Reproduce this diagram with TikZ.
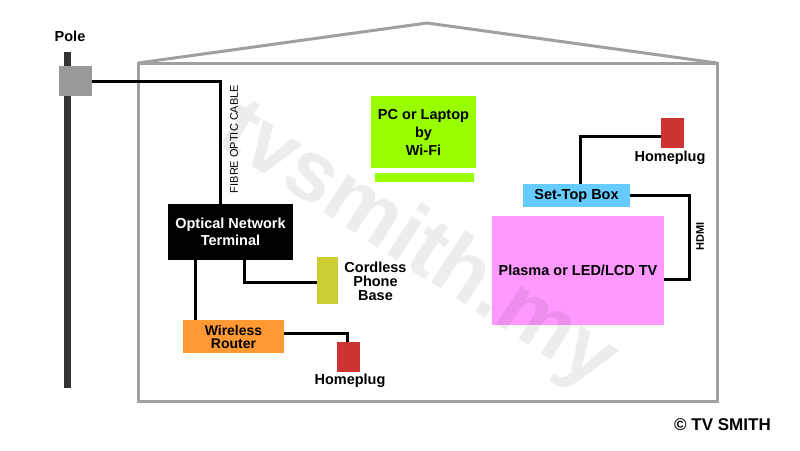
\documentclass[tikz,border=0pt]{standalone}
\usepackage{fontspec}
\setmainfont{Liberation Sans}
\usetikzlibrary{calc}
\definecolor{housegray}{HTML}{A0A0A0}
\definecolor{polegray}{HTML}{333333}
\definecolor{boxgray}{HTML}{999999}
\definecolor{olive}{HTML}{CCCC33}
\definecolor{routerorange}{HTML}{FF9933}
\definecolor{plugred}{HTML}{CC3333}
\definecolor{pcgreen}{HTML}{99FF00}
\definecolor{stbblue}{HTML}{66CCFF}
\definecolor{tvpink}{HTML}{FF99FF}
\begin{document}
\begin{tikzpicture}[x=1pt,y=-1pt,
  box/.style={rectangle,inner sep=0pt,draw=none,align=center},
  lbl/.style={inner sep=0pt,align=center,font=\bfseries\fontsize{14.5}{14}\selectfont},
  wire/.style={draw=black,line width=3pt},
  house/.style={draw=housegray,line width=3pt,line join=miter}]
\useasboundingbox (0,0) rectangle (800,450);
% house
\draw[house] (138,63) rectangle (717,401);
\draw[house] (138,63) -- (427,23) -- (717,63);
% pole
\fill[polegray] (64,52) rectangle (71,388);
\node[box,fill=boxgray,minimum width=33pt,minimum height=30pt] (pbox) at (75.5,81) {};
\node[lbl] (polelbl) at (70,36) {Pole};
% devices
\node[box,fill=black,text=white,minimum width=125pt,minimum height=56pt,font=\bfseries\fontsize{14.5}{17}\selectfont] (ont) at (230.5,232) {Optical Network\\Terminal};
\node[box,fill=olive,minimum width=21pt,minimum height=47pt] (cord) at (327.5,280.5) {};
\node[lbl] (cordlbl) at (375.5,281) {Cordless\\Phone\\Base};
\node[box,fill=routerorange,minimum width=101pt,minimum height=33pt,font=\bfseries\fontsize{14}{13}\selectfont] (router) at (233.5,336.5) {Wireless\\Router};
\node[box,fill=plugred,minimum width=23pt,minimum height=30pt] (hp1) at (348.5,357) {};
\node[lbl] (hp1lbl) at (350,381) {Homeplug};
\node[box,fill=pcgreen,minimum width=105pt,minimum height=72pt,font=\bfseries\fontsize{14.5}{18}\selectfont] (pc) at (423.5,132) {PC or Laptop\\by\\Wi-Fi};
\node[box,fill=pcgreen,minimum width=99pt,minimum height=9pt] (kbd) at (424.5,177.5) {};
\node[box,fill=plugred,minimum width=23pt,minimum height=30pt] (hp2) at (672.5,133) {};
\node[lbl] (hp2lbl) at (670,158) {Homeplug};
\node[box,fill=stbblue,minimum width=107pt,minimum height=23pt,font=\bfseries\fontsize{14.5}{17}\selectfont] (stb) at (576.5,195.5) {Set-Top Box};
\node[box,fill=tvpink,minimum width=172pt,minimum height=109pt,font=\bfseries\fontsize{14.5}{17}\selectfont] (tv) at (578,270.5) {Plasma or LED/LCD TV};
% wires
\coordinate (k0) at (220,81);
\draw[wire] (pbox.east) -- (k0) -- (k0 |- ont.north);
\node[inner sep=0pt,rotate=90,font=\fontsize{11}{12}\selectfont] (fibrelbl) at (234,139) {FIBRE OPTIC CABLE};
\coordinate (k1) at (244,282);
\draw[wire] (k1 |- ont.south) -- (k1) -- (k1 -| cord.west);
\coordinate (k2) at (195,300);
\draw[wire] (k2 |- ont.south) -- (k2 |- router.north);
\coordinate (k3) at (347,333);
\draw[wire] (k3 -| router.east) -- (k3) -- (k3 |- hp1.north);
\coordinate (k4) at (580,136);
\draw[wire] (k4 |- stb.north) -- (k4) -- (k4 -| hp2.west);
\coordinate (k5) at (689,279);
\draw[wire] (stb.east) -| (k5) -- (k5 -| tv.east);
\node[inner sep=0pt,rotate=90,font=\bfseries\fontsize{11}{12}\selectfont] (hdmilbl) at (700,236) {HDMI};
% copyright
\node[inner sep=0pt,font=\bfseries\fontsize{17}{18}\selectfont] (copy) at (722.5,425) {© TV SMITH};
% watermark
\node[inner sep=0pt,rotate=-33,opacity=0.07,font=\bfseries\fontsize{86}{86}\selectfont] (wm) at (417,247) {tvsmith.my};
\end{tikzpicture}
\end{document}
